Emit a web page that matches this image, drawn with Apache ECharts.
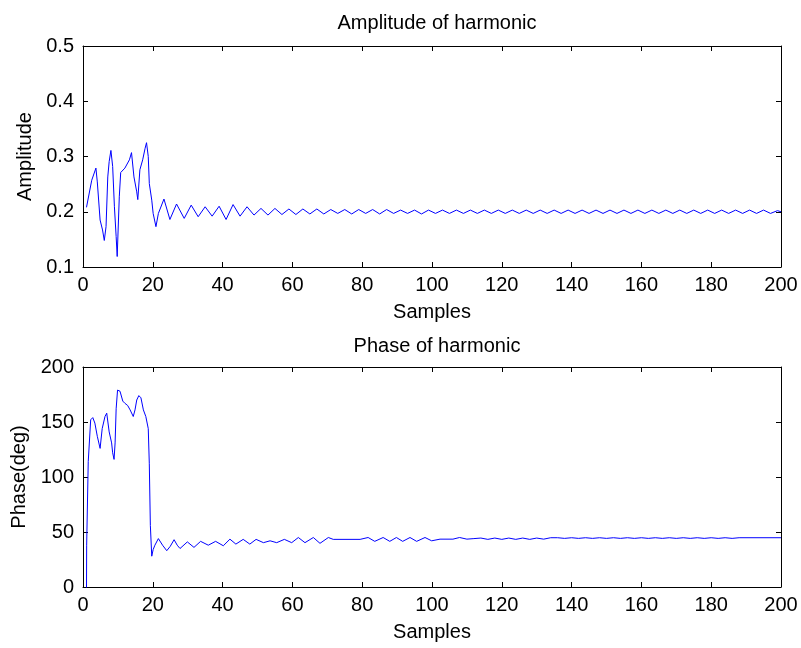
<!DOCTYPE html>
<html lang="en">
<head>
    <meta charset="UTF-8">
    <title>Harmonic</title>
</head>
<body style="margin:0;background:#fff">
<div id="main" style="width:801px;height:648px"></div>
<script src="https://cdn.jsdelivr.net/npm/echarts@6/dist/echarts.min.js"></script>
<script type="text/javascript">
    // amplitude of harmonic (top)
    var ampSamples = [1, 2.5, 3.7, 4.1, 4.9, 5.6, 6.1, 6.6, 7.1, 7.5, 8, 8.5, 9, 9.5, 9.8, 10.4, 10.8, 12, 13.3, 13.9,
        14.6, 15.4, 15.7, 16.3, 17.1, 17.8, 18.2, 18.7, 19, 19.7, 20.1, 20.9, 21.6, 23.2, 24.9, 26.8, 29,
        31, 33, 35, 37, 39, 41, 43, 45, 47, 49, 51, 53, 55, 57, 59, 61, 63, 65, 67, 69, 71, 73, 75, 77, 79,
        81, 83, 85, 87, 89, 91, 93, 95, 97, 99, 101, 103, 105, 107, 109, 111, 113, 115, 117, 119, 121, 123,
        125, 127, 129, 131, 133, 135, 137, 139, 141, 143, 145, 147, 149, 151, 153, 155, 157, 159, 161, 163,
        165, 167, 169, 171, 173, 175, 177, 179, 181, 183, 185, 187, 189, 191, 193, 195, 197, 199, 200];
    var ampValues = [0.208, 0.257, 0.279, 0.254, 0.185, 0.167, 0.148, 0.173, 0.263, 0.291, 0.311, 0.282, 0.209, 0.155, 0.119, 0.227, 0.271, 0.279, 0.294, 0.307,
        0.263, 0.236, 0.222, 0.276, 0.294, 0.315, 0.325, 0.300, 0.251, 0.221, 0.197, 0.173, 0.197, 0.223, 0.186, 0.214, 0.188,
        0.212, 0.191, 0.209, 0.192, 0.210, 0.186, 0.213, 0.192, 0.209, 0.194, 0.206, 0.194, 0.206, 0.195, 0.205, 0.195, 0.205, 0.196, 0.205, 0.196, 0.204, 0.197, 0.204, 0.196, 0.204,
        0.197, 0.204, 0.196, 0.204, 0.197, 0.203, 0.197, 0.203, 0.196, 0.203, 0.197, 0.203, 0.197, 0.203, 0.197, 0.203, 0.197, 0.203, 0.197, 0.203, 0.197, 0.203,
        0.197, 0.203, 0.197, 0.203, 0.197, 0.203, 0.197, 0.203, 0.197, 0.203, 0.197, 0.203, 0.197, 0.203, 0.197, 0.203, 0.197, 0.203, 0.197, 0.203,
        0.197, 0.203, 0.197, 0.203, 0.197, 0.203, 0.197, 0.203, 0.197, 0.203, 0.197, 0.203, 0.197, 0.203, 0.197, 0.203, 0.197, 0.202, 0.200];

    // phase of harmonic (bottom)
    var phaseSamples = [1, 1.05, 1.5, 2.2, 2.8, 3.4, 4.1, 4.9, 5.5, 6.3, 6.8, 7.5, 8.2, 8.5, 8.9, 9.2, 9.5, 9.9, 10.6, 11.4,
        12, 12.8, 13.5, 14.4, 14.9, 15.4, 16, 16.6, 17.3, 18, 18.7, 19, 19.3, 19.7, 20.1, 20.6, 21.6, 22.8, 24, 25,
        26.1, 27, 27.8, 29.9, 31.8, 33.7, 35.9, 38, 40.2, 42.1, 43.8, 45.9, 47.8, 49.6, 51.7, 53.6, 55.5, 57.7, 59.8, 61.7,
        63.6, 66, 67.9, 70.3, 71.7, 79.4, 81.7, 83.6, 86, 87.9, 89.8, 91.6, 93.7, 95.6, 98, 99.9, 102.3, 106, 107.9, 110,
        112, 114, 116, 118, 120, 122, 124, 126, 128, 130, 132, 134, 136, 138, 140, 142, 144, 146, 148, 150,
        152, 154, 156, 158, 160, 162, 164, 166, 168, 170, 172, 174, 176, 178, 180, 182, 184, 186, 188, 200];
    var phaseValues = [-5, 38, 114, 152, 154, 149, 137, 126, 144, 155, 158, 141, 131, 122, 116, 131, 162, 179, 178, 169,
        167, 165, 161, 155, 161, 170, 174, 172, 161, 155, 144, 112, 56, 28, 34, 38, 44, 38, 33, 37,
        43, 38, 35, 41, 36, 41.5, 38, 41.5, 37.5, 43.5, 39, 43.3, 39, 43.3, 40.3, 42, 40.3, 43.3, 40.3, 45,
        40.3, 45, 39.7, 45, 43.3, 43.3, 45, 41.5, 45, 41.5, 45, 41.5, 45, 41.5, 45, 42, 43.5, 43.5, 45, 43.5,
        44, 44.5, 43.3, 44.5, 43.3, 44.5, 43.3, 44.5, 43.3, 44.5, 43.5, 44.8, 44.8, 44.2, 44.8, 44.2, 44.8, 44.2, 44.8, 44.2,
        44.8, 44.2, 44.8, 44.2, 44.8, 44.2, 44.8, 44.2, 44.8, 44.2, 44.8, 44.2, 44.8, 44.2, 44.8, 44.2, 44.8, 44.2, 44.8, 44.8];

    var sampleTicks = [0, 200, 20];
    var ampTicks = [0.1, 0.5, 0.1];
    var phaseTicks = [0, 200, 50];

    function pairs(xs, ys) {
        var out = [];
        for (var i = 0; i < xs.length; i++) {
            out.push([xs[i], ys[i]]);
        }
        return out;
    }

    var font = 'Liberation Sans, Arial, sans-serif';
    var fs = 20;

    function xAx(gi, top, name) {
        return {
            type: 'value', gridIndex: gi, position: top ? 'top' : 'bottom',
            min: sampleTicks[0], max: sampleTicks[1], interval: sampleTicks[2],
            name: top ? '' : name, nameLocation: 'middle', nameGap: 35,
            nameTextStyle: {color: '#000', fontFamily: font, fontSize: fs},
            axisLine: {show: true, onZero: false, lineStyle: {color: '#000', width: 1}},
            axisTick: {show: true, inside: true, length: 5, lineStyle: {color: '#000'}},
            axisLabel: {show: !top, color: '#000', fontFamily: font, fontSize: fs, margin: 8},
            splitLine: {show: false}
        };
    }

    function yAx(gi, right, ticks, name, gap, fmt) {
        return {
            type: 'value', gridIndex: gi, position: right ? 'right' : 'left',
            min: ticks[0], max: ticks[1], interval: ticks[2],
            name: right ? '' : name, nameLocation: 'middle', nameGap: gap,
            nameTextStyle: {color: '#000', fontFamily: font, fontSize: fs},
            axisLine: {show: true, onZero: false, lineStyle: {color: '#000', width: 1}},
            axisTick: {show: true, inside: true, length: 5, lineStyle: {color: '#000'}},
            axisLabel: {show: !right, color: '#000', fontFamily: font, fontSize: fs, margin: 9, formatter: fmt},
            splitLine: {show: false}
        };
    }

    var chart = echarts.init(document.getElementById('main'));
    var option = {
        animation: false,
        backgroundColor: '#fff',
        title: [
            {text: 'Amplitude of harmonic', left: 432, top: 8, textAlign: 'center',
                textStyle: {color: '#000', fontFamily: font, fontSize: fs, fontWeight: 'normal'}},
            {text: 'Phase of harmonic', left: 432, top: 331, textAlign: 'center',
                textStyle: {color: '#000', fontFamily: font, fontSize: fs, fontWeight: 'normal'}}
        ],
        grid: [
            {left: 83, top: 46, width: 698, height: 221},
            {left: 83, top: 367, width: 698, height: 220}
        ],
        xAxis: [
            xAx(0, false, 'Samples'), xAx(0, true, ''),
            xAx(1, false, 'Samples'), xAx(1, true, '')
        ],
        yAxis: [
            yAx(0, false, ampTicks, 'Amplitude', 48, function (v) { return v.toFixed(1); }),
            yAx(0, true, ampTicks, '', 0, null),
            yAx(1, false, phaseTicks, 'Phase(deg)', 53, null),
            yAx(1, true, phaseTicks, '', 0, null)
        ],
        series: [
            {
                name: 'Amplitude', type: 'line', xAxisIndex: 0, yAxisIndex: 0,
                data: pairs(ampSamples, ampValues), showSymbol: false, clip: true,
                lineStyle: {color: '#0000ff', width: 1}
            },
            {
                name: 'Phase', type: 'line', xAxisIndex: 2, yAxisIndex: 2,
                data: pairs(phaseSamples, phaseValues), showSymbol: false, clip: true,
                lineStyle: {color: '#0000ff', width: 1}
            }
        ]
    };
    chart.setOption(option);
</script>
</body>
</html>
